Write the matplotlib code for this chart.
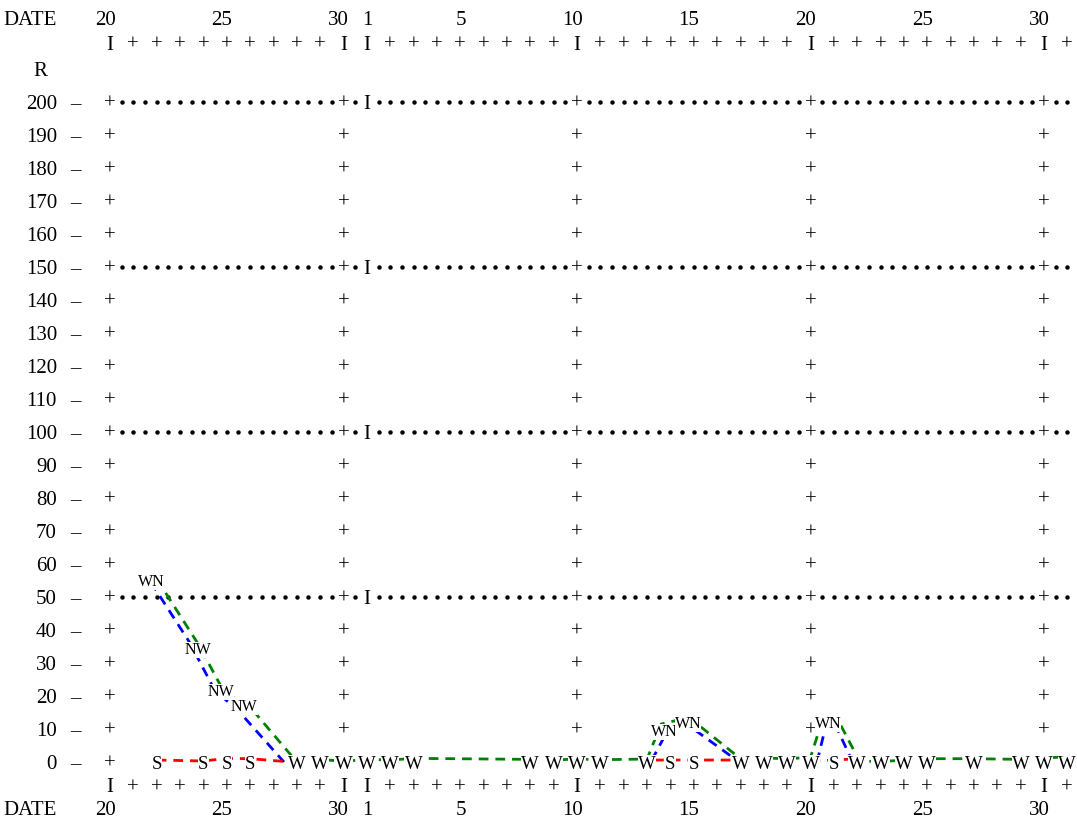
import numpy as np
import matplotlib.pyplot as plt

plt.rcParams['font.family'] = ['Liberation Serif', 'DejaVu Serif']

# date axis: one column per day, 20..30, 1..30, then day 1 of the next month
date_labels = ['20', '25', '30', '1', '5', '10', '15', '20', '25', '30']
date_label_cols = [0, 5, 10, 11, 15, 20, 25, 30, 35, 40]
major_cols = [0, 10, 11, 20, 30, 40]
n_cols = 42

# R axis
r_ticks = list(range(0, 201, 10))
dotted_rows = [50, 100, 150, 200]
grid_cols = [0, 10, 20, 30, 40]

# line series (day column, R)
green_x = [2.0, 3.8, 4.9, 5.9, 8, 9, 10, 11, 12, 13, 18, 19, 20, 21, 23, 23.6, 24.8,
           27, 28, 29, 30, 30.52, 31.16, 32.1, 33, 34, 35, 37, 39, 40, 41]
green_r = [55.5, 35.5, 21, 17.5, 0, 0.8, 0.2, 0.8, 0.6, 1.1, 0.8, 0.6, 0.9, 0.7, 0.9, 11.5, 13.5,
           1.0, 1.2, 1.0, 1.4, 13, 13, 0.2, 0.2, 0.5, 1.0, 1.0, 0.8, 1.2, 1.6]

blue_x = [1.75, 3.43, 4.5, 5.44, 7.45, np.nan, 23.2, 23.95, 24.6, 26.65, np.nan,
          30.28, 30.69, 31.02, 31.8]
blue_r = [54.5, 36, 21.5, 16, 0, np.nan, 0.5, 10.5, 12, 1.5, np.nan,
          0, 12, 12, 0]

red_x = [2, 4, 5, 6, 7.4, np.nan, 23.3, 24, 25, 26.7, np.nan, 30, 31, 32]
red_r = [0.6, 0.3, 1.1, 1.0, 0.2, np.nan, 0.6, 0.6, 0.6, 0.6, np.nan, 0.2, 0.6, 1.0]

# printed symbols
w_days = [8, 9, 10, 11, 12, 13, 18, 19, 20, 21, 23, 27, 28, 29, 30, 32, 33, 34, 35, 37, 39, 40, 41]
s_days = [2, 4, 5, 6, 24, 25, 31]
pair_days = [2, 4, 5, 6, 24, 25, 31]
pair_r = [55.2, 34.5, 21.8, 17.3, 9.7, 12.1, 12.1]
pair_text = ['WN', 'NW', 'NW', 'NW', 'WN', 'WN', 'WN']

fig = plt.figure(figsize=(10.77, 8.25), dpi=100)
ax = fig.add_axes([0, 0, 1, 1])
ax.set_xlim(-4.711, 41.413)
ax.set_ylim(-19.09, 230.91)
ax.axis('off')

fs = 15
txt = dict(fontsize=fs, ha='center', va='center_baseline', color='black')

# date rows, top and bottom
for r_lab, r_tick in [(225.5, 217.9), (-13.9, -7.0)]:
    ax.text(-2.27, r_lab, 'DATE', fontsize=fs, ha='right', va='center_baseline')
    for lab, c in zip(date_labels, date_label_cols):
        ax.text(c + 0.24, r_lab, lab, fontsize=fs, ha='right', va='center_baseline')
    for c in range(n_cols):
        ax.text(c, r_tick, 'I' if c in major_cols else '+', **txt)

ax.text(-3.0, 210, 'R', **txt)

# R axis labels and grid marks
for r in r_ticks:
    ax.text(-2.27, r, str(r), fontsize=fs, ha='right', va='center_baseline')
    ax.text(-1.5, r, '–', **txt)
    cols = grid_cols if r > 0 else [0]
    for c in cols:
        ax.text(c, r, '+', **txt)

for r in dotted_rows:
    ax.text(11, r, 'I', **txt)
    dots = [k / 2 for k in range(1, 2 * n_cols) if k / 2 not in major_cols]
    ax.plot(dots, [r] * len(dots), linestyle='none', marker='o', ms=2.2,
            color='black')

# series lines
dash = (0, (3.5, 2.5))
ax.plot(blue_x, blue_r, color='#0000ff', lw=2.0, linestyle=dash, zorder=3)
ax.plot(red_x, red_r, color='#ff0000', lw=2.0, linestyle=dash, zorder=3)
ax.plot(green_x, green_r, color='#008000', lw=2.0, linestyle=dash, zorder=4)

# symbols
box = dict(facecolor='white', edgecolor='none', pad=0.2)
mfs = 13.5
for d in w_days:
    ax.text(d, 0, 'W', fontsize=mfs, ha='center', va='center_baseline', bbox=box, zorder=5)
for d in s_days:
    ax.text(d, 0, 'S', fontsize=mfs, ha='center', va='center_baseline', bbox=box, zorder=5)
for d, r, t in zip(pair_days, pair_r, pair_text):
    ax.text(d - 0.25, r, t, fontsize=11.5, ha='center', va='center_baseline',
            bbox=dict(facecolor='white', edgecolor='none', pad=0), zorder=5)

fig.savefig('out.png', dpi=100)
